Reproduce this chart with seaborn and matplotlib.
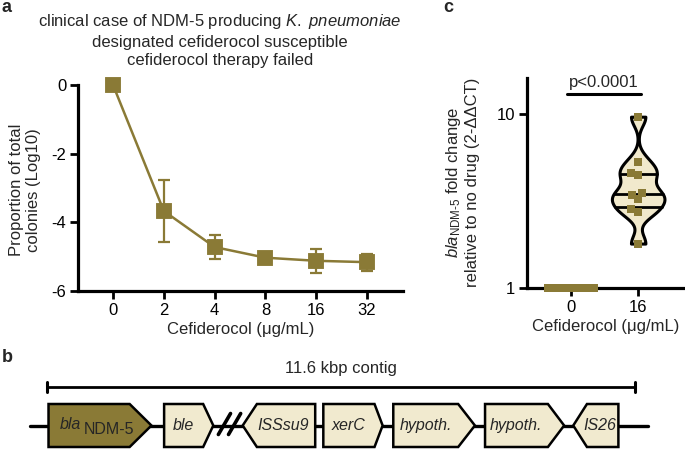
import numpy as np
import pandas as pd
import matplotlib
matplotlib.use("Agg")
import matplotlib.pyplot as plt
from matplotlib.patches import Polygon
import seaborn as sns

# ── data ──────────────────────────────────────────
# panel a: proportion of colonies (log10) vs cefiderocol
conc_labels = ["0", "2", "4", "8", "16", "32"]
log_prop = [0.0, -3.67, -4.72, -5.03, -5.12, -5.16]
log_err = [0.0, 0.91, 0.36, 0.10, 0.35, 0.25]

# panel c: blaNDM-5 fold change relative to no drug
dose_labels = ["0", "16"]
fold_0 = [1.0, 1.0, 1.0, 1.0, 1.0, 1.0, 1.0]
fold_16 = [9.65, 5.32, 4.56, 4.47, 3.52, 3.43, 3.25, 2.84, 2.75, 1.80]
p_text = "p<0.0001"

# panel b: 11.6 kbp contig, gene coordinates in kbp
contig_len = 11.6
gene_names = ["bla", "ble", "ISSsu9", "xerC", "hypoth.", "hypoth.", "IS26"]
gene_start = [0.03, 2.31, 3.86, 5.45, 6.83, 8.64, 10.38]
gene_end = [2.06, 3.28, 5.29, 6.62, 8.44, 10.20, 11.27]
gene_strand = [1, 1, -1, 1, 1, 1, -1]
backbone_start, backbone_end = -0.34, 11.85
break_pos = 3.6

# ── style ─────────────────────────────────────────
OLIVE = "#8a7a36"
BEIGE = "#f1eacf"
VIOLIN = "#f1e9cc"
HEADS = [0.43, 0.20, 0.28, 0.16, 0.33, 0.32, 0.27]
FS = 12

sns.set_theme(style="ticks")
plt.rcParams["font.family"] = ["Liberation Sans", "DejaVu Sans"]
plt.rcParams["mathtext.fontset"] = "custom"
plt.rcParams["mathtext.rm"] = "Liberation Sans"
plt.rcParams["mathtext.it"] = "Liberation Sans:italic"
plt.rcParams["mathtext.bf"] = "Liberation Sans:bold"
plt.rcParams["axes.unicode_minus"] = False
plt.rcParams["font.size"] = FS

W, H = 685, 449
fig = plt.figure(figsize=(W / 100, H / 100), dpi=100)


def frac(x0, y0, x1, y1):
    # pixel box -> figure fraction [left, bottom, width, height]
    return [x0 / W, 1 - y1 / H, (x1 - x0) / W, (y1 - y0) / H]


def style_axis(ax):
    for side in ["top", "right"]:
        ax.spines[side].set_visible(False)
    for side in ["left", "bottom"]:
        ax.spines[side].set_linewidth(2.3)
        ax.spines[side].set_color("black")
    ax.tick_params(axis="both", which="major", length=6, width=2,
                   color="black", labelsize=FS, pad=2.5, labelcolor="black")
    ax.tick_params(axis="both", which="minor", length=0)
    ax.grid(False)


# ── panel a ───────────────────────────────────────
ax_a = fig.add_axes(frac(78, 85, 403, 291))
df_a = pd.DataFrame({"conc": conc_labels, "logp": log_prop})
sns.pointplot(data=df_a, x="conc", y="logp", order=conc_labels, color=OLIVE,
              marker="s", markersize=10.5, linewidth=1.8, errorbar=None, ax=ax_a)
ax_a.errorbar(np.arange(len(conc_labels)), log_prop, yerr=log_err, fmt="none",
              ecolor=OLIVE, elinewidth=1.6, capsize=4.5, capthick=1.6, zorder=1)
for art in ax_a.lines + ax_a.collections:
    art.set_clip_on(False)
ax_a.set_xlim(-0.69, 5.71)
ax_a.set_ylim(-6, 0)
ax_a.set_yticks([0, -2, -4, -6])
ax_a.set_yticklabels(["0", "-2", "-4", "-6"])
ax_a.set_xlabel("Cefiderocol (\u03bcg/mL)", fontsize=FS, labelpad=3)
ax_a.set_ylabel("")
style_axis(ax_a)
fig.text(25 / W, 1 - 190 / H, "Proportion of total\ncolonies (Log10)",
         rotation=90, ha="center", va="center", fontsize=FS, linespacing=1.15)
fig.text(220 / W, 1 - 40 / H,
         "clinical case of NDM-5 producing $\\mathit{K.\\ pneumoniae}$\n"
         "designated cefiderocol susceptible\ncefiderocol therapy failed",
         ha="center", va="center", fontsize=FS, linespacing=1.3)

# ── panel c ───────────────────────────────────────
ax_c = fig.add_axes(frac(527, 78, 684, 288))
df_c = pd.DataFrame({"dose": ["0"] * len(fold_0) + ["16"] * len(fold_16),
                     "fold": fold_0 + fold_16})
sns.violinplot(data=df_c[df_c["dose"] == "16"], x="dose", y="fold", order=dose_labels,
               color=VIOLIN, saturation=1, linecolor="black", linewidth=2.2,
               cut=0, bw_adjust=0.42, width=0.78, inner="quart",
               inner_kws={"color": "black", "linewidth": 2},
               log_scale=True, ax=ax_c)
for ln in ax_c.lines:
    ln.set_linestyle("-")
    ln.set_color("black")
sns.swarmplot(data=df_c, x="dose", y="fold", order=dose_labels, color=OLIVE,
              marker="s", size=5.2, linewidth=0, log_scale=True, ax=ax_c)
for art in ax_c.collections:
    art.set_clip_on(False)
ax_c.set_xlim(-0.65, 1.68)
ax_c.set_ylim(1, 16.1)
ax_c.yaxis.set_major_locator(matplotlib.ticker.FixedLocator([1, 10]))
ax_c.yaxis.set_minor_locator(matplotlib.ticker.NullLocator())
ax_c.set_yticklabels(["1", "10"])
ax_c.set_xlabel("Cefiderocol (\u03bcg/mL)", fontsize=FS, labelpad=3)
ax_c.set_ylabel("")
style_axis(ax_c)

# significance bar
bar_y = max(fold_16) * 1.35
ax_c.plot([-0.06, 1.04], [bar_y, bar_y], color="black", lw=2.2, clip_on=False)
ax_c.text(0.49, bar_y * 1.05, p_text, ha="center", va="bottom", fontsize=FS)

fig.text(462 / W, 1 - 182 / H,
         "$\\mathit{bla}_{\\mathrm{NDM\\text{-}5}}$ fold change\n"
         "relative to no drug (2-\u0394\u0394CT)",
         rotation=90, ha="center", va="center", fontsize=FS, linespacing=1.15)

# ── panel b ───────────────────────────────────────
px_per_kb = 50.7
ax_b = fig.add_axes([0, 0, 1, 112 / H])
ax_b.set_xlim(-47 / px_per_kb, (W - 47) / px_per_kb)
ax_b.set_ylim(449, 337)
ax_b.axis("off")

TEXT_Y, BAR_Y, MID, HALF = 368, 387, 425.5, 21.5
GFS = 11.5

# contig scale bar
ax_b.plot([0, contig_len], [BAR_Y, BAR_Y], color="black", lw=2, solid_capstyle="butt")
for xe in [0, contig_len]:
    ax_b.plot([xe, xe], [BAR_Y - 5, BAR_Y + 5], color="black", lw=2.2)
ax_b.text(contig_len / 2, TEXT_Y, f"{contig_len} kbp contig", ha="center",
          va="center", fontsize=FS)

# backbone
ax_b.plot([backbone_start, backbone_end], [MID, MID], color="black", lw=2.4, zorder=1)

# break marks
for dx in [-0.1, 0.1]:
    x0 = break_pos + dx
    ax_b.plot([x0 - 0.12, x0 + 0.12], [MID + 9, MID - 12], color="black",
              lw=2.6, zorder=3)

for name, s, e, strand, head in zip(gene_names, gene_start, gene_end, gene_strand, HEADS):
    if strand > 0:
        pts = [(s, MID - HALF), (e - head, MID - HALF), (e, MID),
               (e - head, MID + HALF), (s, MID + HALF)]
        cx = (s + e - head) / 2
    else:
        pts = [(e, MID - HALF), (s + head, MID - HALF), (s, MID),
               (s + head, MID + HALF), (e, MID + HALF)]
        cx = (s + head + e) / 2 - 0.05
    fill = OLIVE if name == "bla" else BEIGE
    ax_b.add_patch(Polygon(pts, closed=True, facecolor=fill, edgecolor="black",
                           lw=1.8, joinstyle="miter", zorder=2, clip_on=False))
    if name == "bla":
        split = s + 0.4 * (e - head - s)
        ax_b.text(split, MID - 1, "bla", style="italic", ha="right", va="center",
                  fontsize=GFS, zorder=4)
        ax_b.text(split + 0.06, MID + 4, "NDM-5", ha="left", va="center",
                  fontsize=GFS, zorder=4)
    else:
        ax_b.text(cx, MID, name, style="italic", ha="center", va="center",
                  fontsize=GFS, zorder=4)

# panel letters
for letter, (px, py) in {"a": (7, 8), "b": (7, 358), "c": (448, 8)}.items():
    fig.text(px / W, 1 - py / H, letter, fontsize=13, fontweight="bold",
             ha="center", va="center")

fig.savefig("out.png", dpi=100)
